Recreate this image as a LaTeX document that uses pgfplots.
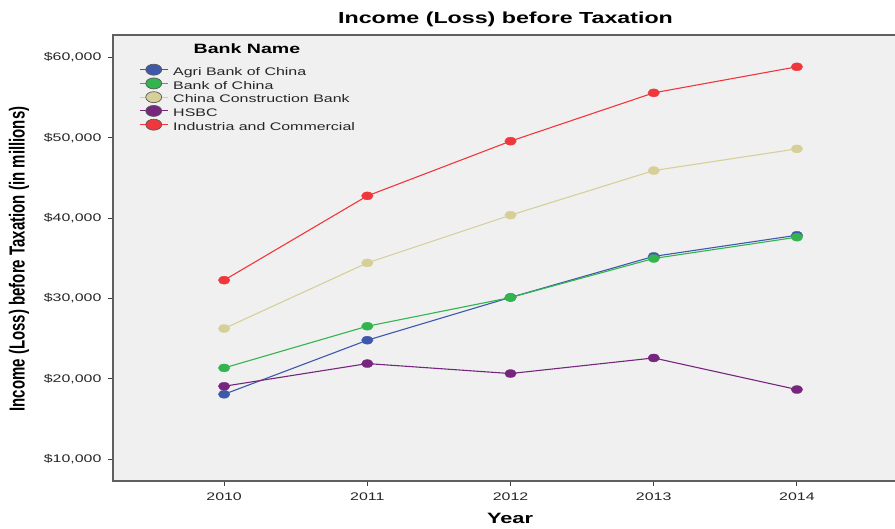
\documentclass[border=0pt]{standalone}
\usepackage{fontspec}
\setmainfont{Liberation Sans}
\usepackage{pgfplots}
\pgfplotsset{compat=1.18}
\definecolor{bgc}{RGB}{240,240,240}
\definecolor{axc}{RGB}{95,95,95}
\definecolor{cred}{RGB}{240,55,60}
\definecolor{ckha}{RGB}{214,208,152}
\definecolor{cgrn}{RGB}{52,180,78}
\definecolor{cblu}{RGB}{62,88,172}
\definecolor{cpur}{RGB}{118,38,124}
\newcommand{\hs}[1]{\scalebox{1.45}[1]{#1}}
\pgfplotsset{
  dataline/.style={line width=1.1pt, mark=*, mark size=4pt, mark options={xscale=1.45, solid, line width=0.3pt}},
  legimg/.style={line width=1pt, mark=*, mark size=5.5pt, mark options={xscale=1.45, draw=black!65, line width=0.7pt}},
}
\begin{document}
\begin{tikzpicture}[x=1pt,y=1pt]
\useasboundingbox (0,0) rectangle (895,529);
\clip (0,0) rectangle (895,529);
\begin{axis}[
  at={(113pt,48pt)}, anchor=south west, scale only axis,
  width=832pt, height=446pt,
  xmin=2009.224, xmax=2015.034, ymin=7300, ymax=62800,
  scaled y ticks=false,
  axis background/.style={fill=bgc},
  axis line style={draw=axc, line width=1.3pt},
  xtick={2010,2011,2012,2013,2014},
  xticklabels={\hs{2010},\hs{2011},\hs{2012},\hs{2013},\hs{2014}},
  ytick={10000,20000,30000,40000,50000,60000},
  yticklabels={\hs{\$10,000},\hs{\$20,000},\hs{\$30,000},\hs{\$40,000},\hs{\$50,000},\hs{\$60,000}},
  tick pos=left, tick align=outside, major tick length=5pt,
  tick style={draw=black!75, line width=1pt},
  ticklabel style={font=\fontsize{11}{13}\selectfont, text=black!85},
  xticklabel style={yshift=-3pt},
  yticklabel style={xshift=-3pt},
  legend style={at={(axis description cs:0.0313,0.935)}, anchor=north west,
    draw=none, fill=none, inner sep=0pt, row sep=-1pt, column sep=5pt,
    font=\fontsize{11}{13}\selectfont, text=black!85,
    nodes={inner sep=0pt, text height=9pt, text depth=3.5pt}},
  legend cell align=left,
  legend image code/.code={\draw[#1, mark repeat=2, mark phase=2] plot coordinates {(0pt,3pt)(14pt,3pt)(28pt,3pt)};},
]
\addlegendimage{legimg, color=cblu}
\addlegendentry{\hs{Agri Bank of China}}
\addlegendimage{legimg, color=cgrn}
\addlegendentry{\hs{Bank of China}}
\addlegendimage{legimg, color=ckha}
\addlegendentry{\hs{China Construction Bank}}
\addlegendimage{legimg, color=cpur}
\addlegendentry{\hs{HSBC}}
\addlegendimage{legimg, color=cred}
\addlegendentry{\hs{Industria and Commercial}}

\addplot[dataline, color=cblu, forget plot] coordinates {(2010,18090)(2011,24820)(2012,30150)(2013,35250)(2014,37880)};
\addplot[dataline, color=cgrn, forget plot] coordinates {(2010,21370)(2011,26560)(2012,30130)(2013,34990)(2014,37640)};
\addplot[dataline, color=ckha, forget plot] coordinates {(2010,26270)(2011,34440)(2012,40380)(2013,45930)(2014,48630)};
\addplot[dataline, color=cpur, forget plot] coordinates {(2010,19090)(2011,21910)(2012,20670)(2013,22610)(2014,18680)};
\addplot[dataline, color=cred, forget plot] coordinates {(2010,32290)(2011,42780)(2012,49590)(2013,55600)(2014,58840)};
\end{axis}
\node[anchor=base] at (505.5,505.5) {\hs{\fontsize{16}{19}\selectfont\bfseries Income (Loss) before Taxation}};
\node[anchor=base] at (510,5) {\hs{\fontsize{15}{18}\selectfont\bfseries Year}};
\node[anchor=base] at (247,475.5) {\hs{\fontsize{13.5}{16}\selectfont\bfseries Bank Name}};
\node[rotate=90] at (19,270) {\scalebox{1}[1.45]{\fontsize{15}{18}\selectfont\bfseries Income (Loss) before Taxation (in millions)}};
\end{tikzpicture}
\end{document}
